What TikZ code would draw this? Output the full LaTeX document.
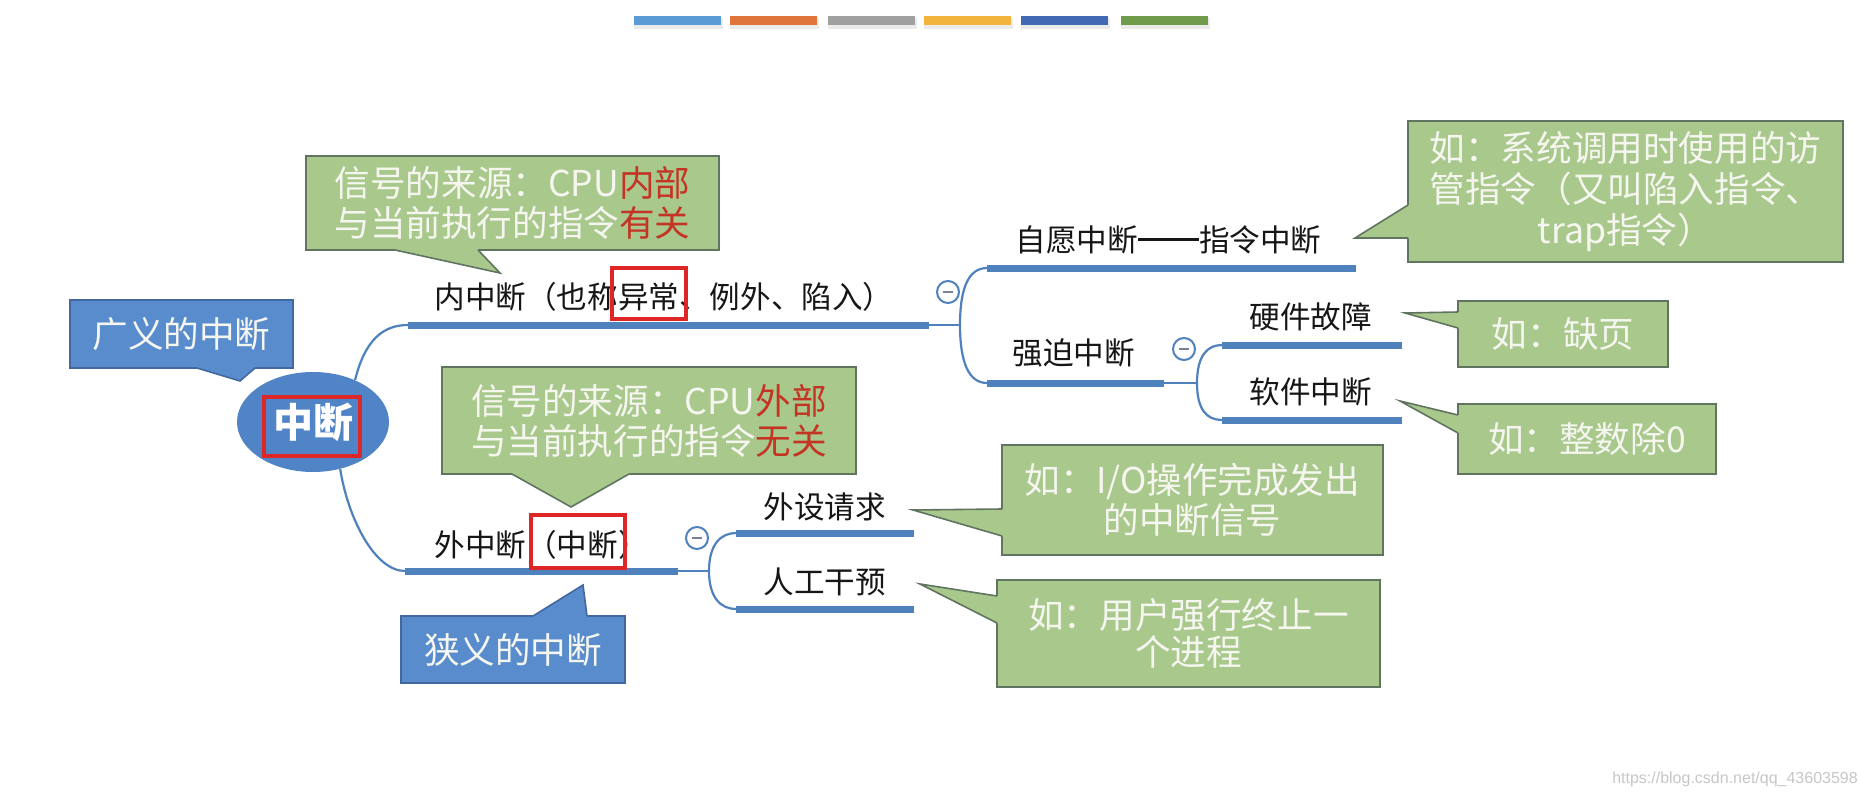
\documentclass[tikz,border=0pt]{standalone}
\usepackage{fontspec}
\setmainfont{Noto Sans CJK SC}
\newfontfamily\wmfont{Liberation Sans}
\usetikzlibrary{calc,shapes.geometric}
\definecolor{gfill}{RGB}{169,200,140}
\definecolor{gborder}{RGB}{96,116,96}
\definecolor{bfill}{RGB}{88,140,204}
\definecolor{bborder}{RGB}{66,104,158}
\definecolor{efill}{RGB}{80,132,198}
\definecolor{lblue}{RGB}{79,129,189}
\definecolor{rbox}{RGB}{222,38,38}
\definecolor{rtxt}{RGB}{196,52,36}
\definecolor{wtxt}{RGB}{246,246,240}
\definecolor{btxt}{RGB}{22,22,22}
\definecolor{minusc}{RGB}{120,128,150}
\definecolor{barA}{RGB}{91,155,213}
\definecolor{barB}{RGB}{222,116,58}
\definecolor{barC}{RGB}{160,160,160}
\definecolor{barD}{RGB}{242,180,60}
\definecolor{barE}{RGB}{65,105,180}
\definecolor{barF}{RGB}{112,155,74}
\tikzset{
  gbox/.style={rectangle, fill=gfill, draw=gborder, line width=0.8pt, inner sep=0pt,
    text=wtxt, align=center, font=\fontsize{17.8}{20}\selectfont},
  bbox/.style={rectangle, fill=bfill, draw=bborder, line width=0.8pt, inner sep=0pt,
    text=wtxt, align=center, font=\fontsize{17.8}{20}\selectfont},
  gedge/.style={draw=gborder, line width=0.8pt, line join=miter},
  bedge/.style={draw=bborder, line width=0.8pt, line join=miter},
  lbl/.style={anchor=west, inner sep=0pt, text=btxt, font=\fontsize{15.3}{18}\selectfont},
  trunk/.style={draw=lblue, line width=3.5pt},
  twig/.style={draw=lblue, line width=1.1pt},
  minusnode/.style={circle, draw=lblue, fill=white, line width=1pt, minimum size=11pt, inner sep=0pt},
  minusbar/.style={draw=minusc, line width=1pt},
  redbox/.style={rectangle, draw=rbox, line width=1.6pt, inner sep=0pt},
  colbar/.style={rectangle, inner sep=0pt, minimum width=43.5pt, minimum height=4.5pt}
}
\begin{document}
\begin{tikzpicture}[x=0.5pt,y=-0.5pt]
\fill[white] (0,0) rectangle (1866,797);
\useasboundingbox (0,0) rectangle (1866,797);

% colour bars at top (with a faint shadow)
\foreach \cx in {677.5,773,871,967.5,1064.5,1164.5}
  \fill[black!8] (\cx-43.5,18) rectangle (\cx+45.5,29);
\node[colbar, fill=barA] (barA) at (677.5,20.5) {};
\node[colbar, fill=barB] (barB) at (773,20.5) {};
\node[colbar, fill=barC] (barC) at (871,20.5) {};
\node[colbar, fill=barD] (barD) at (967.5,20.5) {};
\node[colbar, fill=barE] (barE) at (1064.5,20.5) {};
\node[colbar, fill=barF] (barF) at (1164.5,20.5) {};

% root
\node[ellipse, fill=efill, minimum width=76pt, minimum height=50pt, inner sep=0pt,
  text=white, font=\bfseries\fontsize{20}{22}\selectfont] (root) at (313,422) {中断};
\node[redbox, minimum width=48pt, minimum height=29.5pt] (redRoot) at (312,426.5) {};

% broad / narrow labels
\node[bbox, minimum width=111.5pt, minimum height=34pt] (broad) at (181.5,334) {广义的中断};
\fill[bfill] (197,368) -- (240,381) -- (255,368) -- (255,365) -- (197,365) -- cycle;
\draw[bedge] (197,368) -- (240,381) -- (255,368);

\node[bbox, minimum width=112pt, minimum height=33.5pt] (narrow) at (513,649.5) {狭义的中断};
\fill[bfill] (533,616) -- (583,585) -- (587,616) -- (587,619) -- (533,619) -- cycle;
\draw[bedge] (533,616) -- (583,585) -- (587,616);

% coordinates of branch lines
\coordinate (L1s) at (408,325); \coordinate (L1e) at (929,325); \coordinate (J1) at (960,325);
\coordinate (S1s) at (987,268); \coordinate (S1e) at (1356,268);
\coordinate (S2s) at (987,383); \coordinate (S2e) at (1164,383); \coordinate (J2) at (1197,383);
\coordinate (H1s) at (1222,345); \coordinate (H1e) at (1402,345);
\coordinate (H2s) at (1222,420); \coordinate (H2e) at (1402,420);
\coordinate (L2s) at (405,571); \coordinate (L2e) at (678,571); \coordinate (J3) at (709,571);
\coordinate (E1s) at (736,533); \coordinate (E1e) at (914,533);
\coordinate (E2s) at (736,609); \coordinate (E2e) at (914,609);

% connectors
\draw[twig] (root.45) .. controls +(10,-40) and +(-25,0) .. (L1s);
\draw[twig] (root.-60) .. controls +(8,50) and +(-30,0) .. (L2s);
\draw[twig] (L1e) -- (J1);
\draw[twig] (J1) .. controls +(0,-38) and +(-18,0) .. (S1s);
\draw[twig] (J1) .. controls +(0,38) and +(-18,0) .. (S2s);
\draw[twig] (S2e) -- (J2);
\draw[twig] (J2) .. controls +(0,-27) and +(-15,0) .. (H1s);
\draw[twig] (J2) .. controls +(0,27) and +(-15,0) .. (H2s);
\draw[twig] (L2e) -- (J3);
\draw[twig] (J3) .. controls +(0,-27) and +(-15,0) .. (E1s);
\draw[twig] (J3) .. controls +(0,27) and +(-15,0) .. (E2s);

\draw[trunk] (L1s) -- (L1e);
\draw[trunk] (S1s) -- (S1e);
\draw[trunk] (S2s) -- (S2e);
\draw[trunk] (H1s) -- (H1e);
\draw[trunk] (H2s) -- (H2e);
\draw[trunk] (L2s) -- (L2e);
\draw[trunk] (E1s) -- (E1e);
\draw[trunk] (E2s) -- (E2e);

% collapse markers
\node[minusnode] (m1) at (948,292) {};
\draw[minusbar] ([xshift=-2.5pt]m1.center) -- ([xshift=2.5pt]m1.center);
\node[minusnode] (m2) at (1184,349) {};
\draw[minusbar] ([xshift=-2.5pt]m2.center) -- ([xshift=2.5pt]m2.center);
\node[minusnode] (m3) at (697,538) {};
\draw[minusbar] ([xshift=-2.5pt]m3.center) -- ([xshift=2.5pt]m3.center);

% branch labels
\node[lbl] (inner) at (434,297) {内中断（也称异常、例外、陷入）};
\node[redbox, minimum width=37pt, minimum height=25.5pt] (redA) at (649,293.5) {};
\node[lbl] (vol) at (1015,240) {自愿中断\rule[0.36em]{2em}{0.07em}指令中断};
\node[lbl] (forced) at (1012,353) {强迫中断};
\node[lbl] (hw) at (1249,317) {硬件故障};
\node[lbl] (sw) at (1249,392) {软件中断};
\node[lbl] (outer) at (434,545) {外中断（中断）};
\node[redbox, minimum width=47pt, minimum height=26.5pt] (redE) at (578,541.5) {};
\node[lbl] (dev) at (763,507) {外设请求};
\node[lbl] (man) at (763,582) {人工干预};

% green callouts
\node[gbox, minimum width=206.5pt, minimum height=47pt] (boxA) at (512.5,203)
  {信号的来源：CPU\textcolor{rtxt}{内部}\\与当前执行的指令\textcolor{rtxt}{有关}};
\fill[gfill] (395,250) -- (500,273) -- (478,250) -- (478,247) -- (395,247) -- cycle;
\draw[gedge] (395,250) -- (500,273) -- (478,250);

\node[gbox, minimum width=207pt, minimum height=53.5pt] (boxE) at (649,420.5)
  {信号的来源：CPU\textcolor{rtxt}{外部}\\与当前执行的指令\textcolor{rtxt}{无关}};
\fill[gfill] (512,474) -- (571,507) -- (629,474) -- (629,471) -- (512,471) -- cycle;
\draw[gedge] (512,474) -- (571,507) -- (629,474);

\node[gbox, minimum width=217.5pt, minimum height=70.5pt,
  font=\fontsize{17.8}{20.7}\selectfont] (boxB) at (1625.5,191.5)
  {如：系统调用时使用的访\\管指令（又叫陷入指令、\\trap指令）};
\fill[gfill] (1408,205) -- (1355,238) -- (1408,238) -- (1411,238) -- (1411,205) -- cycle;
\draw[gedge] (1408,205) -- (1355,238) -- (1408,238);

\node[gbox, minimum width=105pt, minimum height=33pt] (boxC) at (1563,334) {如：缺页};
\fill[gfill] (1458,312) -- (1405,313) -- (1458,328) -- (1461,328) -- (1461,312) -- cycle;
\draw[gedge] (1458,312) -- (1405,313) -- (1458,328);

\node[gbox, minimum width=129pt, minimum height=35pt] (boxD) at (1587,439) {如：整数除0};
\fill[gfill] (1458,415) -- (1400,401) -- (1458,433) -- (1461,433) -- (1461,415) -- cycle;
\draw[gedge] (1458,415) -- (1400,401) -- (1458,433);

\node[gbox, minimum width=190.5pt, minimum height=55pt] (boxF) at (1192.5,500)
  {如：I/O操作完成发出\\的中断信号};
\fill[gfill] (1002,509) -- (913,510) -- (1002,536) -- (1005,536) -- (1005,509) -- cycle;
\draw[gedge] (1002,509) -- (913,510) -- (1002,536);

\node[gbox, minimum width=191.5pt, minimum height=53.5pt,
  font=\fontsize{17.8}{18.5}\selectfont] (boxG) at (1188.5,633.5)
  {如：用户强行终止一\\个进程};
\fill[gfill] (997,596) -- (920,584) -- (997,623) -- (1000,623) -- (1000,596) -- cycle;
\draw[gedge] (997,596) -- (920,584) -- (997,623);

% watermark
\node[inner sep=0pt, text=black!22, font=\wmfont\fontsize{8}{9}\selectfont] (wm) at (1735,779)
  {https://blog.csdn.net/qq\_43603598};
\end{tikzpicture}
\end{document}
